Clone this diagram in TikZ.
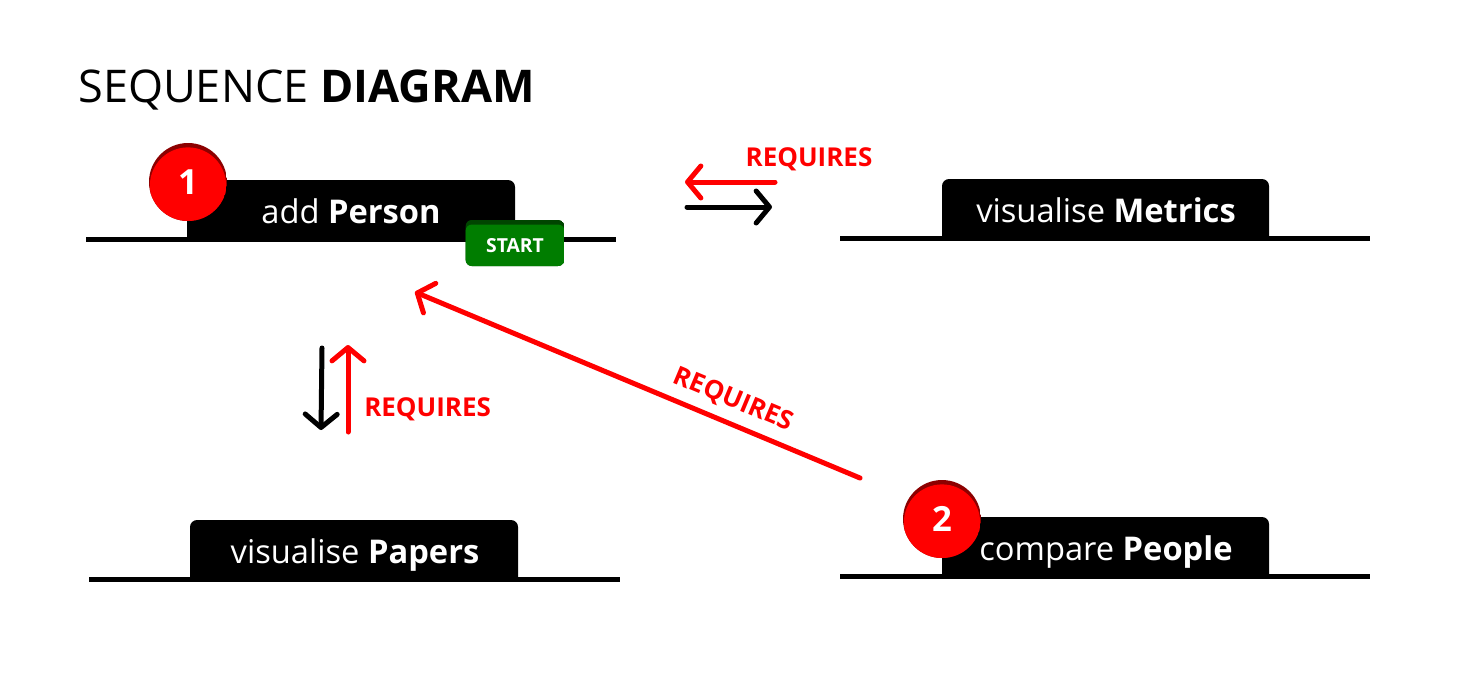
\documentclass[tikz,border=0pt]{standalone}
\usepackage{fontspec}
\setmainfont{Open Sans}
\usepackage{tikz}
\usetikzlibrary{arrows.meta,calc}

\definecolor{reqred}{RGB}{255,0,0}
\definecolor{startgreen}{RGB}{0,125,0}

\tikzset{
  lane/.style={line width=3.75pt},
  tablabel/.style={text=white, inner sep=0pt, anchor=base, font=\fontsize{24.5}{29}\selectfont},
  badge/.style={circle, minimum size=58.5pt, inner sep=0pt, text=white,
    font=\bfseries\fontsize{26}{30}\selectfont,
    path picture={
      \fill[reqred!55!black] (path picture bounding box.south west) rectangle (path picture bounding box.north east);
      \fill[reqred] ($(path picture bounding box.center)!0.09!(path picture bounding box.south)$) circle[radius=28.6pt];
    }},
  startbox/.style={rectangle, rounded corners=4.5pt, minimum width=74pt, minimum height=34.5pt, inner sep=0pt,
    text height=14.8pt, text depth=0pt,
    text=white, font=\bfseries\fontsize{14.5}{17}\selectfont,
    path picture={
      \fill[startgreen!55!black] (path picture bounding box.south west) rectangle (path picture bounding box.north east);
      \fill[startgreen] ($(path picture bounding box.north west)!0.1!(path picture bounding box.south west)$) rectangle (path picture bounding box.south east);
    }},
  reqarrow/.style={draw=reqred, line width=3.75pt, line cap=round, -{Straight Barb[length=10pt,width=24pt,round]}},
  fwdarrow/.style={reqarrow, draw=black},
  reqlabel/.style={text=reqred, inner sep=0pt, font=\bfseries\fontsize{19.5}{23}\selectfont},
}

\begin{document}
\begin{tikzpicture}[x=0.75pt,y=0.75pt,yscale=-1,xscale=1]
\useasboundingbox (0,0) rectangle (1458,690);

% Title
\node[anchor=base west, inner sep=0pt, font=\fontsize{33.8}{38}\selectfont] (title) at (78,102) {SEQUENCE \textbf{DIAGRAM}};

%Shape: Tab add Person
\fill (187,239) -- (187,180) -- (508,180) arc[start angle=-90,end angle=0,radius=7] -- (515,239) -- cycle;
\draw[lane] (86,239) -- (616,239);
%Shape: Tab visualise Metrics
\fill (942,238) -- (942,186) arc[start angle=180,end angle=270,radius=7] -- (1262,179) arc[start angle=-90,end angle=0,radius=7] -- (1269,238) -- cycle;
\draw[lane] (840,238) -- (1370,238);
%Shape: Tab visualise Papers
\fill (190,579) -- (190,527) arc[start angle=180,end angle=270,radius=7] -- (511,520) arc[start angle=-90,end angle=0,radius=7] -- (518,579) -- cycle;
\draw[lane] (89,579) -- (620,579);
%Shape: Tab compare People
\fill (942,576) -- (942,517) -- (1262,517) arc[start angle=-90,end angle=0,radius=7] -- (1269,576) -- cycle;
\draw[lane] (840,576) -- (1370,576);

% Text Node
\node[tablabel] (person) at (351,223) {add \textbf{Person}};
% Text Node
\node[tablabel] (metrics) at (1106,222) {visualise \textbf{Metrics}};
% Text Node
\node[tablabel] (papers) at (355,563) {visualise \textbf{Papers}};
% Text Node
\node[tablabel] (people) at (1106,560) {compare \textbf{People}};

% Badges
\node[badge] (one) at (188,182) {1};
\node[badge] (two) at (942,519) {2};
\node[startbox] (start) at (515,243) {START};

% Arrow ends
\coordinate (mreqS) at (775,182);
\coordinate (mreqE) at (685,182);
\coordinate (mfwdS) at (687,207);
\coordinate (mfwdE) at (772,207);
\coordinate (pfwdS) at (322,348);
\coordinate (pfwdE) at (321,430);
\coordinate (preqS) at (348,432);
\coordinate (preqE) at (348,345);
\coordinate (creqS) at (860,478);
\coordinate (creqE) at (415,292);

%Straight Lines
\draw[reqarrow] (mreqS) -- (mreqE);
\draw[fwdarrow] (mfwdS) -- (mfwdE);
\draw[fwdarrow] (pfwdS) -- (pfwdE);
\draw[reqarrow] (preqS) -- (preqE);
\draw[reqarrow] (creqS) -- (creqE);

% Text Node
\node[reqlabel, anchor=base] (mreq) at (809,166) {REQUIRES};
% Text Node
\node[reqlabel, anchor=base west] (preq) at (364,416) {REQUIRES};
% Text Node
\node[reqlabel, rotate=-22.7] (creq) at (733,400) {REQUIRES};
\end{tikzpicture}
\end{document}
